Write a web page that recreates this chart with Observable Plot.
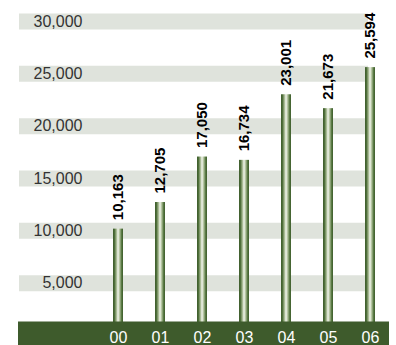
<!DOCTYPE html>
<html><head><meta charset="utf-8">
<script src="https://cdn.jsdelivr.net/npm/d3@7"></script>
<script src="https://cdn.jsdelivr.net/npm/@observablehq/plot@0.6"></script>
<style>html,body{margin:0;padding:0;background:#fff}</style>
</head><body><div id="chart"></div>
<script>
const years = ["00","01","02","03","04","05","06"];
const values = [10163, 12705, 17050, 16734, 23001, 21673, 25594];
const yTicks = [5000, 10000, 15000, 20000, 25000, 30000];
const data = years.map((year, i) => ({year, value: values[i]}));
const fmt = d3.format(",");

const defs = () => {
  const d = d3.create("svg:defs");
  const g = d.append("linearGradient").attr("id", "barGrad")
    .attr("x1", "0").attr("x2", "1").attr("y1", "0").attr("y2", "0");
  [[0, "#3b5a2a"], [0.15, "#4f6f3a"], [0.35, "#a9bb95"], [0.5, "#f4f7ef"],
   [0.65, "#b6c6a3"], [0.85, "#5a7a44"], [1, "#3b5a2a"]]
    .forEach(([o, c]) => g.append("stop").attr("offset", o).attr("stop-color", c));
  return d.node();
};

const chart = Plot.plot({
  width: 396, height: 345,
  marginTop: 21, marginBottom: 10, marginLeft: 19, marginRight: 28,
  x: {type: "band", domain: years, range: [95.3, 391.7], paddingInner: 0.764, paddingOuter: 0.382, axis: null},
  y: {domain: [0, 30000]},
  style: {fontFamily: "'Liberation Sans', Arial, sans-serif", background: "white"},
  marks: [
    defs,
    Plot.ruleY(yTicks, {stroke: "#dfe3dc", strokeWidth: 16}),
    Plot.axisY(yTicks, {tickSize: 0, tickPadding: 0, dx: 63, textAnchor: "end", tickFormat: fmt, fontSize: 16, fill: "#333", label: null}),
    Plot.barY(data, {x: "year", y: "value", fill: "url(#barGrad)"}),
    Plot.ruleY([0], {stroke: "#3e5b2c", strokeWidth: 24, dy: -2, insetLeft: -1, insetRight: -21}),
    Plot.text(data, {x: "year", y: 0, text: "year", fill: "white", fontSize: 16, dy: 2}),
    Plot.text(data, {x: "year", y: "value", text: d => fmt(d.value), rotate: -90, textAnchor: "start", dy: -9, fontWeight: "bold", fontSize: 15, fill: "black"})
  ]
});
document.getElementById("chart").appendChild(chart);
</script>
</body></html>
